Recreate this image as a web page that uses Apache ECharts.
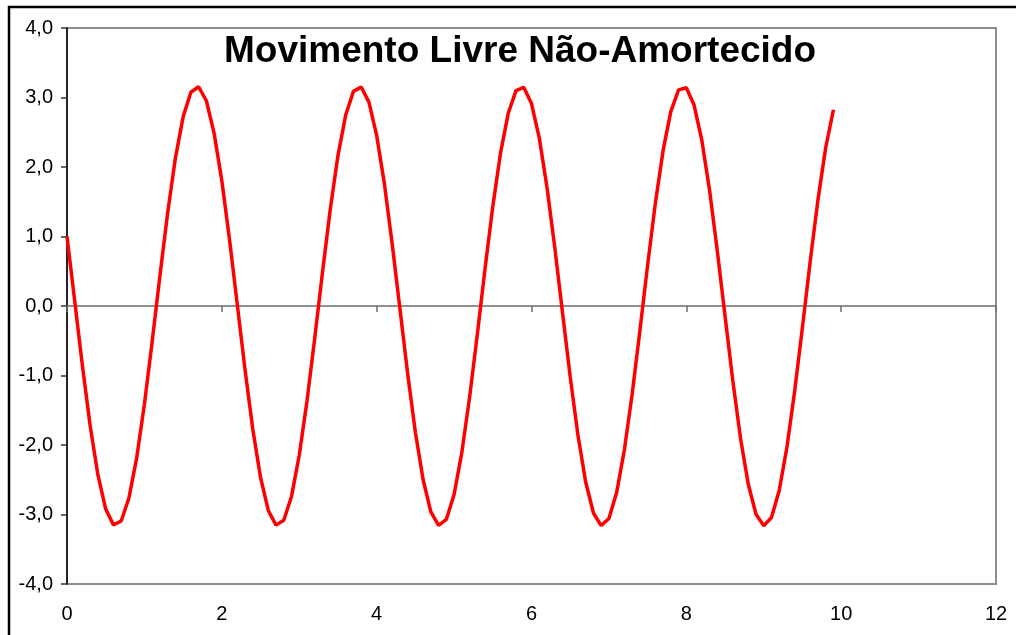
<!DOCTYPE html>
<html>
<head>
<meta charset="utf-8">
<script src="https://cdn.jsdelivr.net/npm/echarts@6/dist/echarts.min.js"></script>
<style>
  html, body { margin: 0; padding: 0; background: #fff; }
  #chart { width: 1016px; height: 635px; }
</style>
</head>
<body>
<div id="chart"></div>
<script>
// Tempo (s) e deslocamento x(t) do oscilador sem amortecimento
const tempo = [
  0.0, 0.1, 0.2, 0.3, 0.4, 0.5, 0.6, 0.7, 0.8, 0.9,
  1.0, 1.1, 1.2, 1.3, 1.4, 1.5, 1.6, 1.7, 1.8, 1.9,
  2.0, 2.1, 2.2, 2.3, 2.4, 2.5, 2.6, 2.7, 2.8, 2.9,
  3.0, 3.1, 3.2, 3.3, 3.4, 3.5, 3.6, 3.7, 3.8, 3.9,
  4.0, 4.1, 4.2, 4.3, 4.4, 4.5, 4.6, 4.7, 4.8, 4.9,
  5.0, 5.1, 5.2, 5.3, 5.4, 5.5, 5.6, 5.7, 5.8, 5.9,
  6.0, 6.1, 6.2, 6.3, 6.4, 6.5, 6.6, 6.7, 6.8, 6.9,
  7.0, 7.1, 7.2, 7.3, 7.4, 7.5, 7.6, 7.7, 7.8, 7.9,
  8.0, 8.1, 8.2, 8.3, 8.4, 8.5, 8.6, 8.7, 8.8, 8.9,
  9.0, 9.1, 9.2, 9.3, 9.4, 9.5, 9.6, 9.7, 9.8, 9.9
];
const deslocamento = [
  1.000, 0.069, -0.868, -1.729, -2.434, -2.922, -3.149, -3.094, -2.763, -2.186,
  -1.414, -0.514, 0.431, 1.337, 2.125, 2.722, 3.076, 3.155, 2.953, 2.487,
  1.801, 0.950, 0.016, -0.919, -1.772, -2.467, -2.942, -3.153, -3.083, -2.740,
  -2.148, -1.366, -0.462, 0.483, 1.385, 2.164, 2.748, 3.088, 3.152, 2.934,
  2.454, 1.757, 0.899, -0.037, -0.970, -1.816, -2.500, -2.961, -3.157, -3.071,
  -2.712, -2.109, -1.318, -0.409, 0.536, 1.433, 2.202, 2.774, 3.099, 3.147,
  2.913, 2.420, 1.710, 0.848, -0.090, -1.020, -1.859, -2.532, -2.979, -3.159,
  -3.058, -2.683, -2.068, -1.269, -0.357, 0.588, 1.480, 2.239, 2.800, 3.109,
  3.141, 2.892, 2.385, 1.666, 0.796, -0.143, -1.071, -1.902, -2.564, -2.996,
  -3.161, -3.044, -2.654, -2.028, -1.220, -0.304, 0.640, 1.527, 2.277, 2.824
];
const titulo = 'Movimento Livre Não-Amortecido';

const pontos = tempo.map((t, i) => [t, deslocamento[i]]);
const fonte = '"Liberation Sans", Arial, sans-serif';

const chart = echarts.init(document.getElementById('chart'), null, { renderer: 'canvas' });
chart.setOption({
  animation: false,
  backgroundColor: '#ffffff',
  title: {
    text: titulo,
    left: 219,
    top: 28,
    textStyle: { fontFamily: fonte, fontSize: 37, fontWeight: 'bold', color: '#000' }
  },
  graphic: [{
    type: 'rect',
    shape: { x: 9, y: 7, width: 1030, height: 660 },
    style: { fill: 'none', stroke: '#000', lineWidth: 2.5 },
    silent: true,
    z: 100
  }],
  grid: {
    left: 67, right: 20, top: 28, bottom: 51,
    show: true,
    borderColor: '#8c8c8c',
    borderWidth: 2,
    backgroundColor: '#fff'
  },
  xAxis: [
    {
      // eixo no zero, com marcas
      type: 'value', min: 0, max: 12, interval: 2,
      axisLine: { onZero: true, lineStyle: { color: '#6e6e6e', width: 1.5 } },
      axisTick: { show: true, length: 6, lineStyle: { color: '#6e6e6e', width: 1.5 } },
      axisLabel: { show: false },
      splitLine: { show: false }
    },
    {
      // rótulos na base do gráfico
      type: 'value', min: 0, max: 12, interval: 2, position: 'bottom',
      axisLine: { show: false },
      axisTick: { show: false },
      axisLabel: { show: true, margin: 20, color: '#000', fontFamily: fonte, fontSize: 20 },
      splitLine: { show: false }
    }
  ],
  yAxis: {
    type: 'value', min: -4, max: 4, interval: 1,
    axisLine: { show: true, onZero: false, lineStyle: { color: '#000', width: 1.5 } },
    axisTick: { show: true, length: 6, lineStyle: { color: '#333', width: 1.5 } },
    axisLabel: {
      margin: 14, color: '#000', fontFamily: fonte, fontSize: 20,
      formatter: v => v.toFixed(1).replace('.', ',')
    },
    splitLine: { show: false }
  },
  series: [{
    type: 'line',
    xAxisIndex: 0,
    data: pontos,
    showSymbol: false,
    smooth: false,
    lineStyle: { color: '#ff0000', width: 3.5 },
    z: 5
  }]
});
</script>
</body>
</html>
